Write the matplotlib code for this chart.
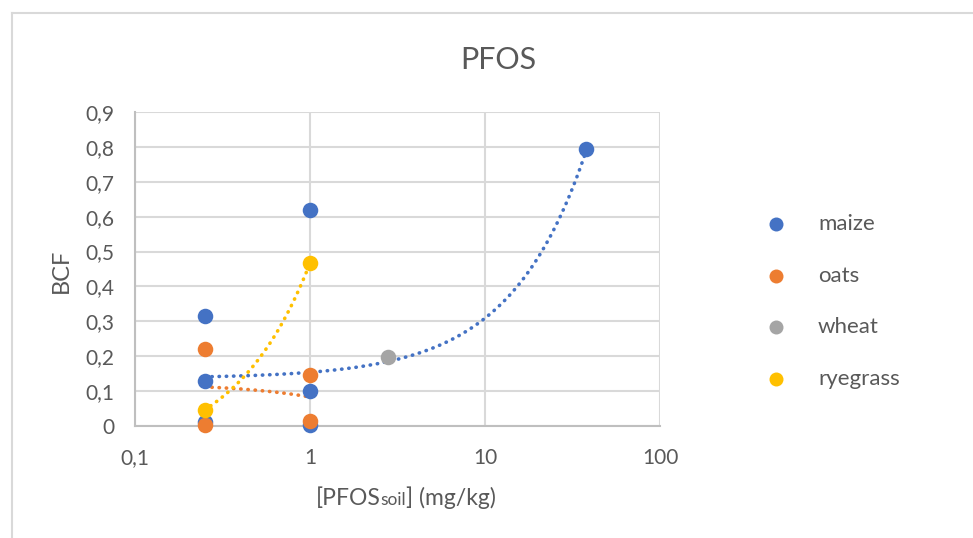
import matplotlib
matplotlib.use("Agg")
import matplotlib.pyplot as plt
from matplotlib.lines import Line2D
from matplotlib.ticker import FixedLocator, FixedFormatter
import numpy as np

plt.rcParams['font.family'] = ['Lato', 'DejaVu Sans']

# ---- data ----
series_names = ["maize", "oats", "wheat", "ryegrass"]
series_colors = ["#4472C4", "#ED7D31", "#A5A5A5", "#FFC000"]

maize_x = [0.25, 0.25, 0.25, 1, 1, 1, 38]
maize_y = [0.315, 0.130, 0.012, 0.619, 0.101, 0.003, 0.795]
oats_x = [0.25, 0.25, 1, 1]
oats_y = [0.221, 0.002, 0.146, 0.014]
wheat_x = [2.8]
wheat_y = [0.198]
ryegrass_x = [0.25, 1]
ryegrass_y = [0.046, 0.467]

# linear trendlines (intercept, slope)
maize_trend = [0.1367, 0.01723]
oats_trend = [0.1217, -0.0387]
ryegrass_trend = [-0.094, 0.561]

x_ticks = [0.1, 1, 10, 100]
x_ticklabels = ["0,1", "1", "10", "100"]
y_ticks = [0, 0.1, 0.2, 0.3, 0.4, 0.5, 0.6, 0.7, 0.8, 0.9]
y_ticklabels = ["0", "0,1", "0,2", "0,3", "0,4", "0,5", "0,6", "0,7", "0,8", "0,9"]

# ---- figure ----
W, H = 973, 538
fig = plt.figure(figsize=(W / 100, H / 100), dpi=100)
ax = fig.add_axes([135 / W, 1 - 426 / H, (660 - 135) / W, (426 - 112) / H])

text_col = "#595959"
grid_col = "#d9d9d9"

# outer chart border (cropped)
fig.add_artist(Line2D([12 / W, 1.0], [1 - 13 / H, 1 - 13 / H], color=grid_col, lw=1.5))
fig.add_artist(Line2D([12 / W, 12 / W], [1 - 13 / H, 0.0], color=grid_col, lw=1.5))

ax.set_xscale("log")
ax.set_xlim(0.1, 100)
ax.set_ylim(0, 0.9)
ax.xaxis.set_major_locator(FixedLocator(x_ticks))
ax.xaxis.set_major_formatter(FixedFormatter(x_ticklabels))
ax.xaxis.set_minor_locator(FixedLocator([]))
ax.set_yticks(y_ticks)
ax.set_yticklabels(y_ticklabels)
ax.grid(True, color=grid_col, lw=1.5, zorder=0)
ax.set_axisbelow(True)
for s in ["top", "right"]:
    ax.spines[s].set_visible(False)
for s in ["left", "bottom"]:
    ax.spines[s].set_color("#bfbfbf")
    ax.spines[s].set_linewidth(1.5)
ax.tick_params(length=0, labelsize=15, colors=text_col)
ax.tick_params(axis="y", pad=15)
ax.tick_params(axis="x", pad=16)

xs_all = [maize_x, oats_x, wheat_x, ryegrass_x]
ys_all = [maize_y, oats_y, wheat_y, ryegrass_y]
trends = [maize_trend, oats_trend, None, ryegrass_trend]

for xs, tr, c in zip(xs_all, trends, series_colors):
    if tr is None:
        continue
    xx = np.logspace(np.log10(min(xs)), np.log10(max(xs)), 200)
    ax.plot(xx, tr[0] + tr[1] * xx, color=c, lw=2.6, linestyle=(0, (0.1, 1.9)),
            dash_capstyle="round", zorder=3)

for i, (xs, ys, c, n) in enumerate(zip(xs_all, ys_all, series_colors, series_names)):
    ax.scatter(xs, ys, s=125, color=c, label=n, zorder=4 + i, linewidths=0, clip_on=False)

fig.text(498 / W, 1 - 60 / H, "PFOS", fontsize=22, color=text_col, ha="center", va="center")
fig.text(61 / W, 1 - 271 / H, "BCF", fontsize=17, color=text_col, ha="center", va="center",
         rotation=90)

# x label with small "soil"
fig.canvas.draw()
r = fig.canvas.get_renderer()
lab_parts = [("[PFOS", 16.5), ("soil", 12.5), ("] (mg/kg)", 16.5)]
widths = []
for s, fs in lab_parts:
    t = fig.text(0, 0, s, fontsize=fs)
    widths.append(t.get_window_extent(r).width)
    t.remove()
total = sum(widths)
x0 = 406 - total / 2
base_y = 1 - 505 / H
for (s, fs), w in zip(lab_parts, widths):
    fig.text(x0 / W, base_y, s, fontsize=fs, color=text_col, va="baseline", ha="left")
    x0 += w

leg = ax.legend(loc="upper left", bbox_to_anchor=(734 / W, 1 - 194 / H),
                bbox_transform=fig.transFigure, frameon=False, fontsize=16,
                labelcolor=text_col, labelspacing=1.42, handletextpad=0.88,
                scatterpoints=1, markerscale=0.9)

fig.savefig("out.png", dpi=100)
